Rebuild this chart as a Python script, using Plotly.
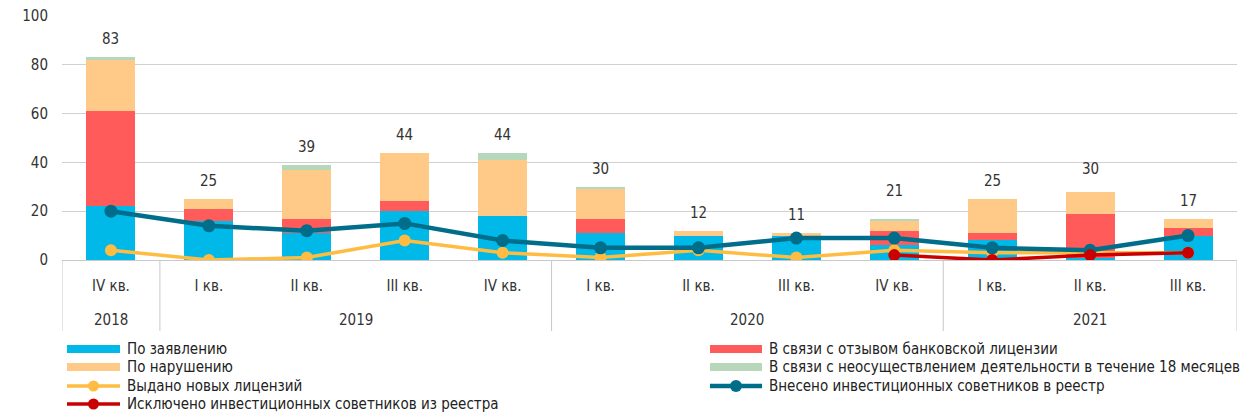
import plotly.graph_objects as go

# Данные
years = ["2018", "2019", "2019", "2019", "2019", "2020", "2020", "2020", "2020", "2021", "2021", "2021"]
quarters = ["IV кв.", "I кв.", "II кв.", "III кв.", "IV кв.", "I кв.", "II кв.", "III кв.", "IV кв.", "I кв.", "II кв.", "III кв."]

po_zayavleniyu = [22, 16, 11, 20, 18, 11, 10, 10, 6, 8, 1, 10]
otzyv_licenzii = [39, 5, 6, 4, 0, 6, 0, 0, 6, 3, 18, 3]
po_narusheniyu = [21, 4, 20, 20, 23, 12, 2, 1, 4, 14, 9, 4]
ne_osushchestvlenie = [1, 0, 2, 0, 3, 1, 0, 0, 1, 0, 0, 0]
totals = [83, 25, 39, 44, 44, 30, 12, 11, 21, 25, 30, 17]

vydano = [4, 0, 1, 8, 3, 1, 4, 1, 4, 3, 3, 3]
vneseno = [20, 14, 12, 15, 8, 5, 5, 9, 9, 5, 4, 10]
isklyucheno = [None, None, None, None, None, None, None, None, 2, 0, 2, 3]

FONT = "Liberation Sans Narrow, DejaVu Sans Condensed, sans-serif"
W, H = 1247, 416
L, R, T, B = 62, 10, 16, 156
PW, PH = W - L - R, H - T - B

x = list(range(len(quarters)))


def px2x(px):
    return (px - L) / PW


def py2y(py):
    return (T + PH - py) / PH


bars = [
    (po_zayavleniyu, "По заявлению", "#00B9E8"),
    (otzyv_licenzii, "В связи с отзывом банковской лицензии", "#FF5B5B"),
    (po_narusheniyu, "По нарушению", "#FFCA88"),
    (ne_osushchestvlenie, "В связи с неосуществлением деятельности в течение 18 месяцев", "#B7D7BA"),
]
lines = [
    (vydano, "Выдано новых лицензий", "#FFBC42", 3.5, 12),
    (vneseno, "Внесено инвестиционных советников в реестр", "#006E8A", 4.5, 13),
    (isklyucheno, "Исключено инвестиционных советников из реестра", "#C80000", 3.5, 12),
]

fig = go.Figure()
for vals, name, color in bars:
    fig.add_trace(go.Bar(x=x, y=vals, name=name, marker=dict(color=color, line=dict(width=0))))
for vals, name, color, w, ms in lines:
    fig.add_trace(go.Scatter(x=x, y=vals, name=name, mode="lines+markers",
                             line=dict(color=color, width=w),
                             marker=dict(color=color, size=ms)))

shapes = []
annotations = []

# подписи итогов над столбцами
for xi, t in zip(x, totals):
    annotations.append(dict(x=xi, y=t, xref="x", yref="y", text=str(t), showarrow=False,
                            yanchor="middle", yshift=18, font=dict(size=15, color="#333333")))

# подписи годов и разделители
groups = []
for i, yr in enumerate(years):
    if not groups or groups[-1][0] != yr:
        groups.append([yr, i, i])
    else:
        groups[-1][2] = i
for yr, a, b in groups:
    annotations.append(dict(x=(a + b) / 2, y=py2y(320), xref="x", yref="paper", text=yr,
                            showarrow=False, yanchor="middle", font=dict(size=15, color="#333333")))
    shapes.append(dict(type="line", xref="x", yref="paper", x0=a - 0.5, x1=a - 0.5,
                       y0=0, y1=py2y(331), line=dict(color="#C8C8C8", width=1)))
shapes.append(dict(type="line", xref="x", yref="paper", x0=len(x) - 0.5, x1=len(x) - 0.5,
                   y0=0, y1=py2y(331), line=dict(color="#C8C8C8", width=1)))

# легенда в две колонки
rows = [349, 367, 386, 404]
left_col = [("bar", bars[0]), ("bar", bars[2]), ("line", lines[0]), ("line", lines[2])]
right_col = [("bar", bars[1]), ("bar", bars[3]), ("line", lines[1])]
for col, (s0, s1, tx) in ((left_col, (67, 120, 125)), (right_col, (710, 762, 767))):
    for (kind, item), ry in zip(col, rows):
        name, color = item[1], item[2]
        if kind == "bar":
            shapes.append(dict(type="rect", xref="paper", yref="paper", x0=px2x(s0), x1=px2x(s1),
                               y0=py2y(ry - 4), y1=py2y(ry + 4), line=dict(width=0), fillcolor=color))
        else:
            lw, ms = item[3], item[4] - 1
            cx = (s0 + s1) / 2
            shapes.append(dict(type="line", xref="paper", yref="paper", x0=px2x(s0), x1=px2x(s1),
                               y0=py2y(ry), y1=py2y(ry), line=dict(color=color, width=lw)))
            shapes.append(dict(type="circle", xref="paper", yref="paper",
                               x0=px2x(cx - ms / 2), x1=px2x(cx + ms / 2),
                               y0=py2y(ry - ms / 2), y1=py2y(ry + ms / 2),
                               line=dict(width=0), fillcolor=color))
        annotations.append(dict(x=px2x(tx), y=py2y(ry), xref="paper", yref="paper", text=name,
                                showarrow=False, xanchor="left", yanchor="middle",
                                font=dict(size=15, color="#222222")))

fig.update_layout(
    width=W, height=H,
    barmode="stack", bargap=0.5,
    plot_bgcolor="white", paper_bgcolor="white",
    font=dict(family=FONT, size=15, color="#333333"),
    margin=dict(l=L, r=R, t=T, b=B, autoexpand=False),
    showlegend=False,
    shapes=shapes, annotations=annotations,
)
fig.update_yaxes(range=[0, 100], dtick=20, showgrid=True, gridcolor="#D0D0D0", gridwidth=1,
                 zeroline=False, showline=False, ticks="outside", ticklen=10,
                 tickcolor="rgba(0,0,0,0)", tickfont=dict(size=15))
fig.update_xaxes(range=[-0.5, len(x) - 0.5], tickvals=x, ticktext=quarters,
                 showline=True, linecolor="#C8C8C8", linewidth=1, showgrid=False,
                 ticks="outside", ticklen=12, tickcolor="rgba(0,0,0,0)", tickfont=dict(size=15))

# убираем стандартный отступ страницы, чтобы картинка совпала с окном
fig.write_html("out.html", config={"displayModeBar": False},
               post_script="document.body.style.margin='0';")
